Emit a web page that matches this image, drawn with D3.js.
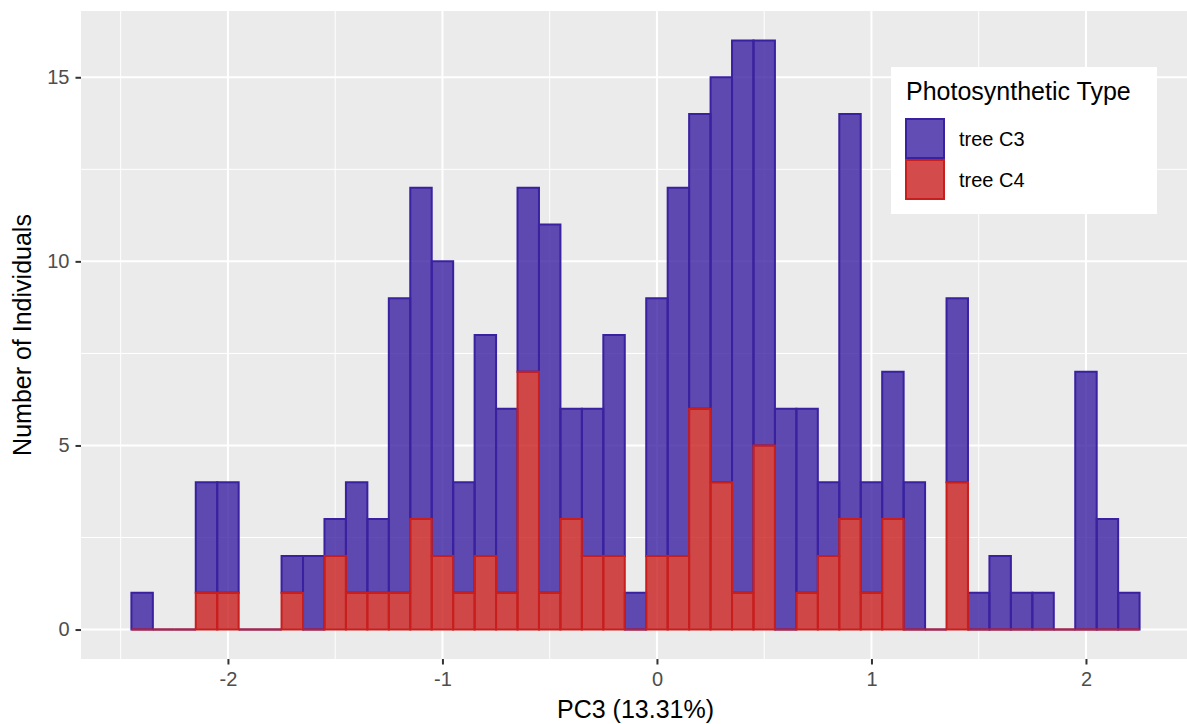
<!DOCTYPE html>
<html>
<head>
<meta charset="utf-8">
<script src="https://cdn.jsdelivr.net/npm/d3@7"></script>
<style>
  body { margin: 0; background: #fff; }
  svg { display: block; font-family: 'Liberation Sans', Arial, Helvetica, sans-serif; }
</style>
</head>
<body>
<div id="chart"></div>
<script>
// bin centres, binwidth 0.1
const binMids = [-2.4, -2.3, -2.2, -2.1, -2.0, -1.9, -1.8, -1.7, -1.6, -1.5, -1.4, -1.3, -1.2, -1.1, -1.0, -0.9,
  -0.8, -0.7, -0.6, -0.5, -0.4, -0.3, -0.2, -0.1, 0.0, 0.1, 0.2, 0.3, 0.4, 0.5, 0.6, 0.7, 0.8, 0.9, 1.0, 1.1,
  1.2, 1.3, 1.4, 1.5, 1.6, 1.7, 1.8, 1.9, 2.0, 2.1, 2.2];
const binWidth = 0.1;
const countC3 = [1, 0, 0, 3, 3, 0, 0, 1, 2, 1, 3, 2, 8, 9, 8, 3, 6, 5, 5, 10, 3, 4, 6, 1, 7, 10, 8, 11, 15, 11,
  6, 5, 2, 11, 3, 4, 4, 0, 5, 1, 2, 1, 1, 0, 7, 3, 1];
const countC4 = [0, 0, 0, 1, 1, 0, 0, 1, 0, 2, 1, 1, 1, 3, 2, 1, 2, 1, 7, 1, 3, 2, 2, 0, 2, 2, 6, 4, 1, 5,
  0, 1, 2, 3, 1, 3, 0, 0, 4, 0, 0, 0, 0, 0, 0, 0, 0];
const groups = ['tree C3', 'tree C4'];
const xTicks = [-2, -1, 0, 1, 2];
const xMinor = [-2.5, -1.5, -0.5, 0.5, 1.5];
const yTicks = [0, 5, 10, 15];
const yMinor = [2.5, 7.5, 12.5];

const colors = { 'tree C3': '#3a21a0', 'tree C4': '#c81e1e' };

const width = 1187, height = 724;
const panel = { left: 81, right: 1190, top: 11, bottom: 659 };

const rows = binMids.map((m, i) => ({
  x0: m - binWidth / 2,
  x1: m + binWidth / 2,
  c3: countC3[i],
  c4: countC4[i]
}));

const xMin = d3.min(rows, d => d.x0), xMax = d3.max(rows, d => d.x1);
const xPad = (xMax - xMin) * 0.05;
const yMax = d3.max(rows, d => d.c3 + d.c4);

const x = d3.scaleLinear().domain([xMin - xPad, xMax + xPad]).range([panel.left, panel.right]);
const y = d3.scaleLinear().domain([-yMax * 0.05, yMax * 1.05]).range([panel.bottom, panel.top]);

const svg = d3.select('#chart').append('svg')
  .attr('width', width)
  .attr('height', height);

svg.append('defs').append('clipPath').attr('id', 'clip')
  .append('rect')
  .attr('x', panel.left).attr('y', panel.top)
  .attr('width', panel.right - panel.left).attr('height', panel.bottom - panel.top);

svg.append('rect')
  .attr('x', panel.left).attr('y', panel.top)
  .attr('width', panel.right - panel.left)
  .attr('height', panel.bottom - panel.top)
  .attr('fill', '#ebebeb');

const grid = svg.append('g').attr('clip-path', 'url(#clip)');
grid.selectAll('line.xminor').data(xMinor).enter().append('line')
  .attr('x1', d => x(d)).attr('x2', d => x(d))
  .attr('y1', panel.top).attr('y2', panel.bottom)
  .attr('stroke', '#fff').attr('stroke-width', 1);
grid.selectAll('line.yminor').data(yMinor).enter().append('line')
  .attr('y1', d => y(d)).attr('y2', d => y(d))
  .attr('x1', panel.left).attr('x2', panel.right)
  .attr('stroke', '#fff').attr('stroke-width', 1);
grid.selectAll('line.xmajor').data(xTicks).enter().append('line')
  .attr('x1', d => x(d)).attr('x2', d => x(d))
  .attr('y1', panel.top).attr('y2', panel.bottom)
  .attr('stroke', '#fff').attr('stroke-width', 2);
grid.selectAll('line.ymajor').data(yTicks).enter().append('line')
  .attr('y1', d => y(d)).attr('y2', d => y(d))
  .attr('x1', panel.left).attr('x2', panel.right)
  .attr('stroke', '#fff').attr('stroke-width', 2);

// rect as a path so that empty bins still show their outline
function barPath(x0, x1, lo, hi) {
  return `M${x(x0)},${y(lo)}H${x(x1)}V${y(hi)}H${x(x0)}Z`;
}

// stacked bars: C4 at the bottom, C3 on top of it
const bars = svg.append('g').attr('clip-path', 'url(#clip)');
bars.selectAll('path.c3').data(rows).enter().append('path')
  .attr('class', 'c3')
  .attr('d', d => barPath(d.x0, d.x1, d.c4, d.c3 + d.c4))
  .attr('fill', colors['tree C3'])
  .attr('fill-opacity', 0.8)
  .attr('stroke', colors['tree C3'])
  .attr('stroke-width', 2);
bars.selectAll('path.c4').data(rows).enter().append('path')
  .attr('class', 'c4')
  .attr('d', d => barPath(d.x0, d.x1, 0, d.c4))
  .attr('fill', colors['tree C4'])
  .attr('fill-opacity', 0.8)
  .attr('stroke', colors['tree C4'])
  .attr('stroke-width', 2);

// axes
const xAxis = svg.append('g')
  .attr('transform', `translate(0,${panel.bottom})`)
  .call(d3.axisBottom(x).tickValues(xTicks).tickSize(5.5).tickPadding(4).tickFormat(d => String(d)));
const yAxis = svg.append('g')
  .attr('transform', `translate(${panel.left},0)`)
  .call(d3.axisLeft(y).tickValues(yTicks).tickSize(5.5).tickPadding(6).tickFormat(d => String(d)));
[xAxis, yAxis].forEach(a => {
  a.select('.domain').remove();
  a.selectAll('.tick line').attr('stroke', '#333').attr('stroke-width', 2);
  a.selectAll('.tick text')
    .attr('fill', '#4d4d4d')
    .style('font-size', '20px')
    .style('font-family', "'Liberation Sans', Arial, sans-serif");
});
xAxis.selectAll('.tick text').attr('dy', '0.85em');

svg.append('text')
  .attr('x', (panel.left + panel.right) / 2)
  .attr('y', 718)
  .attr('text-anchor', 'middle')
  .style('font-size', '25px')
  .text('PC3 (13.31%)');

svg.append('text')
  .attr('transform', `translate(31,${(panel.top + panel.bottom) / 2}) rotate(-90)`)
  .attr('text-anchor', 'middle')
  .style('font-size', '25px')
  .text('Number of Individuals');

// legend
const legend = svg.append('g').attr('transform', 'translate(891,67)');
legend.append('rect')
  .attr('width', 266).attr('height', 147)
  .attr('fill', '#fff');
legend.append('text')
  .attr('x', 15).attr('y', 33)
  .style('font-size', '25px')
  .text('Photosynthetic Type');
const key = legend.selectAll('g.key').data(groups).enter().append('g')
  .attr('class', 'key')
  .attr('transform', (d, i) => `translate(14,${51 + i * 41})`);
key.append('rect')
  .attr('x', 1).attr('y', 1)
  .attr('width', 38).attr('height', 39)
  .attr('fill', d => colors[d])
  .attr('fill-opacity', 0.8)
  .attr('stroke', d => colors[d])
  .attr('stroke-width', 2);
key.append('text')
  .attr('x', 54).attr('y', 28)
  .style('font-size', '20px')
  .text(d => d);
</script>
</body>
</html>
